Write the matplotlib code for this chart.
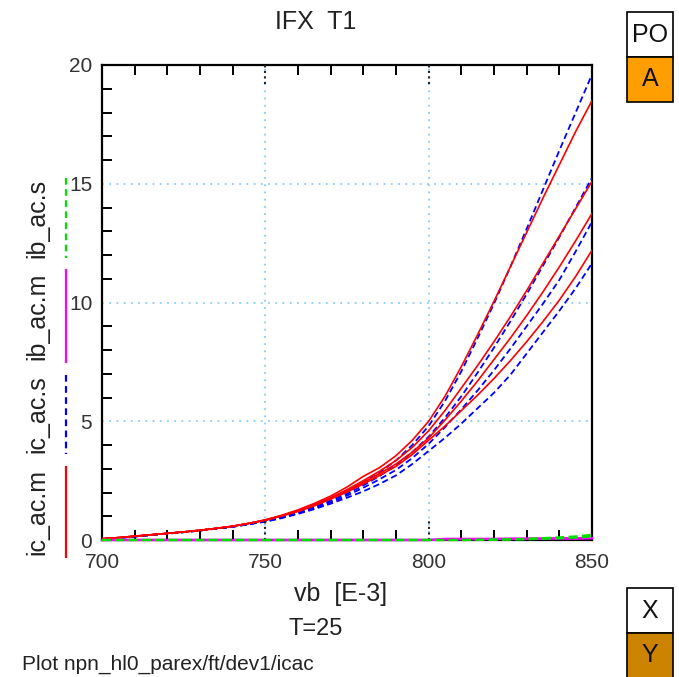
import numpy as np
import matplotlib
matplotlib.use("Agg")
import matplotlib.pyplot as plt
from matplotlib.lines import Line2D
from matplotlib.patches import Rectangle
from matplotlib.ticker import MultipleLocator

plt.rcParams['font.family'] = ['Liberation Sans', 'DejaVu Sans']

# vb [E-3], 5 mV steps
vb = list(range(700, 851, 5))

# ic_ac.m  (measured, red)
ic_m = [
    [0.05, 0.10, 0.16, 0.22, 0.28, 0.34, 0.41, 0.49, 0.58, 0.70, 0.85, 1.04, 1.27, 1.54, 1.85, 2.23,
     2.68, 3.05, 3.55, 4.20, 5.00, 6.05, 7.30, 8.65, 10.05, 11.5, 12.95, 14.4, 15.8, 17.2, 18.5],
    [0.05, 0.10, 0.16, 0.22, 0.28, 0.34, 0.41, 0.49, 0.58, 0.70, 0.84, 1.02, 1.24, 1.50, 1.78, 2.12,
     2.50, 2.90, 3.35, 3.90, 4.60, 5.45, 6.40, 7.35, 8.35, 9.40, 10.5, 11.65, 12.8, 13.95, 15.1],
    [0.05, 0.10, 0.16, 0.22, 0.28, 0.34, 0.41, 0.49, 0.58, 0.70, 0.84, 1.02, 1.22, 1.47, 1.75, 2.07,
     2.42, 2.80, 3.20, 3.70, 4.30, 5.05, 5.85, 6.70, 7.60, 8.50, 9.45, 10.45, 11.5, 12.6, 13.75],
    [0.05, 0.10, 0.16, 0.22, 0.28, 0.34, 0.41, 0.49, 0.58, 0.70, 0.83, 1.01, 1.20, 1.44, 1.72, 2.02,
     2.36, 2.72, 3.10, 3.60, 4.20, 4.80, 5.45, 6.10, 6.80, 7.55, 8.35, 9.20, 10.1, 11.1, 12.2],
]
# ic_ac.s  (simulated, blue dashed)
ic_s = [
    [0.04, 0.09, 0.15, 0.21, 0.27, 0.33, 0.40, 0.48, 0.56, 0.67, 0.80, 0.97, 1.17, 1.40, 1.68, 2.02,
     2.42, 2.85, 3.35, 4.00, 4.80, 5.85, 7.10, 8.50, 9.95, 11.5, 13.1, 14.75, 16.4, 18.0, 19.6],
    [0.04, 0.09, 0.15, 0.21, 0.27, 0.33, 0.40, 0.48, 0.56, 0.67, 0.79, 0.95, 1.14, 1.36, 1.62, 1.94,
     2.30, 2.70, 3.15, 3.70, 4.35, 5.15, 6.05, 7.05, 8.10, 9.20, 10.35, 11.55, 12.75, 14.0, 15.25],
    [0.04, 0.09, 0.15, 0.21, 0.27, 0.33, 0.40, 0.48, 0.56, 0.67, 0.78, 0.94, 1.12, 1.33, 1.58, 1.87,
     2.20, 2.56, 2.95, 3.45, 4.05, 4.75, 5.50, 6.30, 7.15, 8.05, 9.00, 9.95, 10.95, 12.15, 13.4],
    [0.04, 0.09, 0.15, 0.21, 0.27, 0.33, 0.40, 0.48, 0.56, 0.67, 0.77, 0.92, 1.10, 1.30, 1.53, 1.78,
     2.05, 2.36, 2.72, 3.20, 3.75, 4.30, 4.90, 5.55, 6.20, 6.95, 7.85, 8.75, 9.65, 10.6, 11.65],
]
# ib_ac.m (magenta) / ib_ac.s (green dashed)
ib_m = [
    [0] * 21 + [0.05, 0.05, 0.05, 0.05, 0.06, 0.06, 0.07, 0.07, 0.08, 0.09],
    [0] * 21 + [0.02, 0.03, 0.03, 0.04, 0.04, 0.05, 0.05, 0.06, 0.06, 0.07],
]
ib_s = [
    [0] * 23 + [0.01, 0.02, 0.03, 0.05, 0.08, 0.11, 0.15, 0.22],
    [0] * 23 + [0.0, 0.01, 0.02, 0.03, 0.05, 0.07, 0.10, 0.15],
]

W, H = 679, 677
fig = plt.figure(figsize=(W / 100, H / 100), dpi=100)

def fx(px):
    return px / W

def fy(py):
    return 1 - py / H

ax = fig.add_axes([fx(102), fy(540), fx(592) - fx(102), fy(65) - fy(540)])

for c in ic_s:
    ax.plot(vb, c, color='#0000ff', lw=1.3, dashes=(3.5, 2), zorder=4)
for c in ic_m:
    ax.plot(vb, c, color='#ff0000', lw=1.2, zorder=5)
for c in ib_m:
    ax.plot(vb, c, color='#ff00ff', lw=1.6, zorder=7, clip_on=False)
for c in ib_s:
    ax.plot(vb, c, color='#00e000', lw=1.6, dashes=(4, 2), zorder=8, clip_on=False)

ax.set_xlim(700, 850)
ax.set_ylim(0, 20)
ax.xaxis.set_major_locator(MultipleLocator(50))
ax.xaxis.set_minor_locator(MultipleLocator(10))
ax.yaxis.set_major_locator(MultipleLocator(5))
ax.yaxis.set_minor_locator(MultipleLocator(1))
ax.grid(True, which='major', color='#87cefa', linestyle=(0, (1, 3)), lw=1.3)
ax.tick_params(which='both', direction='in', top=True, right=False,
               labelsize=15, labelcolor='#333333')
ax.tick_params(which='minor', length=7, width=1.4, color='black')
ax.tick_params(which='major', length=0)
ax.tick_params(axis='x', pad=9)
ax.tick_params(axis='y', pad=7)
for s in ax.spines.values():
    s.set_linewidth(1.6)

# dark dotted major tick marks on x
for v in [750, 800]:
    ax.axvline(v, ymin=0, ymax=0.04, color='#222222', linestyle=':', lw=1.5, zorder=6)
    ax.axvline(v, ymin=0.96, ymax=1, color='#222222', linestyle=':', lw=1.5, zorder=6)

# titles and labels
fig.text(fx(316), fy(22), 'IFX  T1', fontsize=18, ha='center', va='center', color='#222222')
fig.text(fx(341), fy(594), 'vb  [E-3]', fontsize=18, ha='center', va='center', color='#222222')
fig.text(fx(316), fy(629), 'T=25', fontsize=17, ha='center', va='center', color='#222222')
fig.text(fx(22), fy(664), 'Plot npn_hl0_parex/ft/dev1/icac', fontsize=15, ha='left',
         va='center', color='#222222')

# y label with line samples
ylab = [('ic_ac.m', 467, 557, '#ff0000', '-'),
        ('ic_ac.s', 375, 454, '#0000ff', '--'),
        ('ib_ac.m', 270, 362, '#ff00ff', '-'),
        ('ib_ac.s', 178, 258, '#00e000', '--')]
for name, y0, y1, col, ls in ylab:
    fig.text(fx(37), fy((y0 + y1) / 2), name, fontsize=18, rotation=90,
             ha='center', va='center', color='#222222')
    ln = Line2D([fx(66), fx(66)], [fy(y0), fy(y1)], color=col, lw=1.6,
                linestyle=ls, transform=fig.transFigure)
    if ls == '--':
        ln.set_dashes((3, 2))
    fig.add_artist(ln)

# side boxes
boxes = [(12, 57, 'PO', 'white'), (57, 102, 'A', '#ff9e00'),
         (588, 633, 'X', 'white'), (633, 690, 'Y', '#cc8400')]
for y0, y1, txt, fc in boxes:
    r = Rectangle((fx(627), fy(y1)), fx(673) - fx(627), fy(y0) - fy(y1),
                  transform=fig.transFigure, facecolor=fc, edgecolor='black', lw=1.2)
    fig.add_artist(r)
    yc = (y0 + y1) / 2 if txt != 'Y' else 655
    fig.text(fx(650), fy(yc), txt, fontsize=18, ha='center', va='center', color='#111111')

fig.savefig('out.png', dpi=100)
